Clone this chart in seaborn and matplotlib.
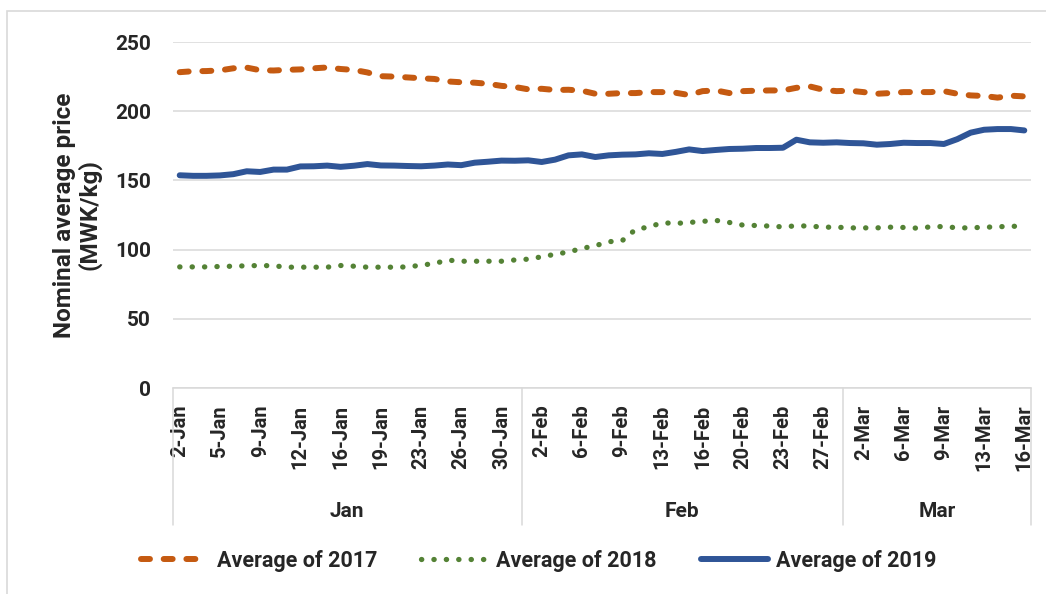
import numpy as np
import pandas as pd
import matplotlib
matplotlib.use("Agg")
import matplotlib.pyplot as plt
import matplotlib.transforms as mtransforms
from matplotlib.patches import Rectangle
import seaborn as sns

# category days (Sundays are not in the data)
jan_days = [2, 3, 4, 5, 6, 8, 9, 10, 11, 12, 13, 15, 16, 17, 18, 19, 20, 22, 23, 24, 25, 26, 27, 29, 30, 31]
feb_days = [1, 2, 3, 5, 6, 7, 8, 9, 10, 12, 13, 14, 15, 16, 17, 19, 20, 21, 22, 23, 24, 26, 27, 28]
mar_days = [1, 2, 3, 5, 6, 7, 8, 9, 10, 12, 13, 14, 15, 16]
months = ["Jan", "Feb", "Mar"]

avg_2017 = [228.2, 228.9, 229.0, 229.5, 231.0, 231.5, 229.6, 229.4, 229.9, 230.2,
            231.0, 231.6, 230.5, 229.8, 228.0, 225.3, 225.0, 224.4, 223.8, 223.3,
            221.5, 220.9, 220.6, 219.8, 218.3, 217.5,
            215.8, 216.2, 215.3, 215.5,
            214.8, 212.6, 212.6, 213.1, 213.1, 213.8, 213.8, 213.3, 211.7, 214.5,
            215.0, 213.1, 214.5, 214.8, 215.0, 215.0, 216.9, 217.9, 215.5, 214.5,
            214.8, 213.8, 212.6, 213.1, 213.8, 213.8, 213.8, 214.5, 212.6, 211.4,
            211.0, 209.8, 211.2, 210.7]
avg_2018 = [87.5, 87.5, 87.5, 87.8, 88.0, 88.3, 88.5, 88.3, 87.3, 87.3,
            87.3, 87.3, 88.5, 88.0, 87.3, 87.3, 87.3, 87.5, 88.7, 90.0,
            92.4, 91.6, 91.6, 91.6, 91.6, 92.5,
            93.1, 94.8, 96.6, 98.3,
            100.8, 102.8, 105.7, 106.4, 114.5, 116.4, 119.4, 118.9, 119.6, 120.4,
            121.1, 119.6, 117.7, 117.4, 117.0, 116.4, 117.2, 117.0, 116.2, 116.2,
            115.7, 115.7, 115.7, 116.2, 116.0, 115.5, 116.4, 116.7, 115.7, 115.7,
            116.2, 116.4, 117.0, 116.4]
avg_2019 = [153.7, 153.3, 153.3, 153.6, 154.5, 156.6, 156.1, 157.8, 157.8, 160.1,
            160.2, 160.7, 159.8, 160.6, 161.8, 160.8, 160.7, 160.4, 160.2, 160.7,
            161.5, 161.0, 162.8, 163.5, 164.3, 164.2,
            164.5, 163.3, 165.0, 168.1,
            168.8, 166.9, 168.1, 168.6, 168.8, 169.6, 169.1, 170.6, 172.4, 171.2,
            172.0, 172.7, 172.9, 173.4, 173.4, 173.6, 179.4, 177.5, 177.2, 177.5,
            177.0, 176.8, 175.8, 176.3, 177.2, 177.0, 177.0, 176.3, 179.8, 184.5,
            186.6, 187.1, 187.1, 186.1]

labels = ([f"{d}-Jan" for d in jan_days] + [f"{d}-Feb" for d in feb_days]
          + [f"{d}-Mar" for d in mar_days])
month_sizes = [len(jan_days), len(feb_days), len(mar_days)]

df = pd.DataFrame({"idx": np.arange(len(labels)), "date": labels,
                   "Average of 2017": avg_2017,
                   "Average of 2018": avg_2018,
                   "Average of 2019": avg_2019})

sns.set_style("white")
plt.rcParams["font.family"] = ["Roboto", "DejaVu Sans"]
plt.rcParams["font.weight"] = "bold"

fig = plt.figure(figsize=(10.46, 5.94), dpi=100)
ax = fig.add_axes([173 / 1046, 1 - 388 / 594, 858 / 1046, 346 / 594])

# chart area border (left/top visible)
fig.patches.append(Rectangle((7 / 1046, -0.1), 1.2, 1 - 11 / 594 + 0.1,
                             transform=fig.transFigure, fill=False,
                             edgecolor="#d9d9d9", lw=1.2))

styles = {
    "Average of 2017": dict(color="#C55A11", dashes=(1.5, 2.3)),
    "Average of 2018": dict(color="#548235", dashes=(0.05, 2.3)),
    "Average of 2019": dict(color="#2F5597", dashes=None),
}
lw = {"Average of 2017": 4.3, "Average of 2018": 3.8, "Average of 2019": 4.3}

for name, st in styles.items():
    sns.lineplot(data=df, x="idx", y=name, ax=ax, color=st["color"],
                 lw=lw[name], label=name, legend=False)
    line = ax.lines[-1]
    line.set_solid_capstyle("round")
    line.set_solid_joinstyle("round")
    if st["dashes"] is not None:
        line.set_dashes(st["dashes"])
        line.set_dash_capstyle("round")

ax.set_xlim(-0.5, len(labels) - 0.5)
ax.set_ylim(0, 250)
ax.set_yticks([0, 50, 100, 150, 200, 250])
ax.yaxis.grid(True, color="#d9d9d9", lw=1.1)
ax.set_axisbelow(True)
for s in ["top", "right", "left"]:
    ax.spines[s].set_visible(False)
ax.spines["bottom"].set_color("#d9d9d9")
ax.spines["bottom"].set_linewidth(1.1)

tick_pos = list(range(0, len(labels), 3))
ax.set_xticks(tick_pos)
ax.set_xticklabels([labels[i] for i in tick_pos], rotation=90, fontsize=14.5,
                   fontweight="bold")
ax.tick_params(axis="x", length=0, pad=12)
ax.tick_params(axis="y", length=0, pad=16, labelsize=15)
for t in ax.get_yticklabels():
    t.set_fontweight("bold")

ax.set_xlabel("")
ax.set_ylabel("Nominal average price\n(MWK/kg)", fontsize=17.5, fontweight="bold",
              linespacing=1.05)
ax.yaxis.set_label_coords(-0.083, 0.5)

# month level of the category axis
trans = mtransforms.blended_transform_factory(ax.transData, ax.transAxes)
bounds = np.concatenate([[0], np.cumsum(month_sizes)]) - 0.5
for b in bounds:
    ax.plot([b, b], [0, -0.396], transform=trans, color="#d9d9d9", lw=1.1,
            clip_on=False)
for m, lo, hi in zip(months, bounds[:-1], bounds[1:]):
    ax.text((lo + hi) / 2, -0.358, m, transform=trans, ha="center", va="center",
            fontsize=15, fontweight="bold")

handles = ax.lines[:3]
fig.legend(handles, list(styles.keys()), loc="center",
           bbox_to_anchor=(539 / 1046, 1 - 561 / 594), ncol=3, frameon=False,
           handlelength=3.1, handletextpad=0.4, columnspacing=2.05,
           prop={"weight": "bold", "size": 15.5})

fig.savefig("out.png", dpi=100)
